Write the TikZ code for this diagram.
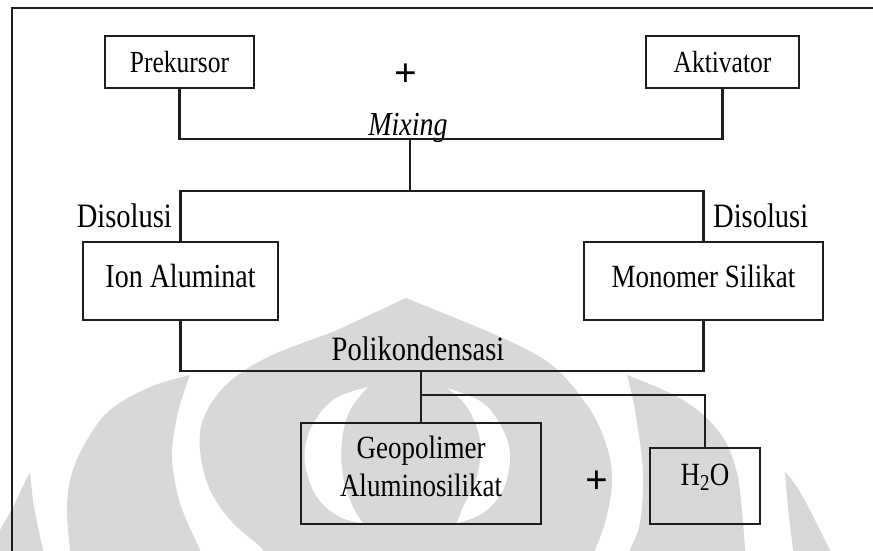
\documentclass[tikz,border=0pt]{standalone}
\usepackage{fontspec}
\setmainfont{Liberation Serif}
\definecolor{wm}{RGB}{216,216,216}
\definecolor{ln}{RGB}{30,30,30}
\newcommand{\tall}[1]{\scalebox{1}[1.2]{#1}}
\begin{document}
\begin{tikzpicture}[x=1pt,y=-1pt,
  box/.style={draw=ln, line width=2.1pt, inner sep=0pt},
  conn/.style={draw=ln, line width=2.1pt},
  lab/.style={inner sep=0pt},
  fa/.style={font=\fontsize{25.5}{30}\selectfont},
  fb/.style={font=\fontsize{27}{38}\selectfont},
  fc/.style={font=\fontsize{28.5}{34}\selectfont},
  fp/.style={font=\fontsize{40}{44}\selectfont\bfseries},
]
\useasboundingbox (0,0) rectangle (873,550);
% watermark
\begin{scope}
\clip (0,0) rectangle (873,550);
% central dome
\fill[wm] plot[smooth,tension=0.6] coordinates {(257,562) (263,550) (233,523) (210,490) (200,450) (204,417) (227,384) (268,357) (333,332)}
  -- (406,298)
  -- plot[smooth,tension=0.6] coordinates {(470,324) (545,360) (587,405) (607,447) (612,483) (605,523) (595,550) (592,562)}
  -- cycle;
% left wing
\fill[wm] plot[smooth,tension=0.6] coordinates {(190,375) (184,392) (177,417) (172,457) (180,503) (200,550) (205,562)}
  -- plot[smooth,tension=0.6] coordinates {(71,562) (70,550) (67,507) (72,473) (87,440) (110,410) (150,387) (190,375)}
  -- cycle;
% right wing
\fill[wm] plot[smooth,tension=0.6] coordinates {(627,375) (632,395) (637,423) (643,473) (640,523) (630,550) (627,562)}
  -- plot[smooth,tension=0.6] coordinates {(746,562) (745,550) (743,523) (737,473) (720,433) (683,400) (627,375)}
  -- cycle;
% outer crescents
\fill[wm] plot[smooth,tension=0.6] coordinates {(30,472) (34,507) (43,550) (46,562)}
  -- plot[smooth,tension=0.6] coordinates {(-14,562) (-8,550) (0,530) (13,507) (24,484) (30,472)}
  -- cycle;
\fill[wm] plot[smooth,tension=0.6] coordinates {(785,472) (788,507) (793,550) (795,562)}
  -- plot[smooth,tension=0.6] coordinates {(838,562) (830,550) (820,530) (803,497) (792,480) (785,472)}
  -- cycle;
% inner white crescents
\fill[white] plot[smooth,tension=0.6] coordinates {(368,387) (333,400) (310,430) (305,463) (317,497) (340,517) (363,523)}
  -- plot[smooth,tension=0.6] coordinates {(363,523) (353,507) (343,477) (342,440) (350,410) (368,387)}
  -- cycle;
\fill[white] plot[smooth,tension=0.6] coordinates {(447,388) (483,403) (503,430) (510,457) (503,490) (483,513) (457,523)}
  -- plot[smooth,tension=0.6] coordinates {(457,523) (463,507) (477,477) (480,440) (467,407) (447,388)}
  -- cycle;
\end{scope}
% frame
\draw[conn] (12,560) -- (12,8) -- (885,8);
% boxes
\node[box, fa, minimum width=149pt, minimum height=52pt, text depth=0pt] (pre) at (179.5,62) {\tall{Prekursor}};
\node[box, fa, minimum width=153pt, minimum height=52pt, text depth=0pt] (akt) at (722.5,62) {\tall{Aktivator}};
\node[box, font=\fontsize{28}{34}\selectfont, minimum width=195pt, minimum height=78pt, text depth=10.9pt] (ion) at (180.5,281) {\tall{Ion Aluminat}};
\node[box, fb, minimum width=239pt, minimum height=78pt, text depth=10.1pt] (mon) at (703.5,281) {\tall{Monomer Silikat}};
\node[box, minimum width=240pt, minimum height=101pt] (geo) at (421,473.5) {};
\node[lab, fb, align=center, anchor=north] (geotxt) at (421,436) {\tall{Geopolimer}\\\tall{Aluminosilikat}};
\node[box, fb, minimum width=110pt, minimum height=76pt, text depth=22.4pt] (h2o) at (705,486) {\tall{H\textsubscript{2}O}};
% labels
\node[lab, fp] (plus1) at (406,75) {+};
\node[lab, fp] (plus2) at (597,482) {+};
\node[lab, font=\fontsize{28}{34}\selectfont\itshape, anchor=base] (mix) at (408,135) {\tall{Mixing}};
\node[lab, fc, anchor=base east] (dis1) at (172,227) {\tall{Disolusi}};
\node[lab, fc, anchor=base west] (dis2) at (713,227) {\tall{Disolusi}};
\node[lab, fc, anchor=base] (poli) at (418,360) {\tall{Polikondensasi}};
% connectors
\coordinate (mixj) at (410,139);
\coordinate (disj) at (410,191);
\coordinate (polj) at (421,371);
\coordinate (brj) at (421,395);
\draw[conn] (pre.south) |- (mixj) -| (akt.south);
\draw[conn] (mixj) -- (disj);
\draw[conn] (ion.north) |- (disj) -| (mon.north);
\draw[conn] (ion.south) |- (polj) -| (mon.south);
\draw[conn] (polj) -- (geo.north);
\draw[conn] (brj) -| (h2o.north);
\end{tikzpicture}
\end{document}
